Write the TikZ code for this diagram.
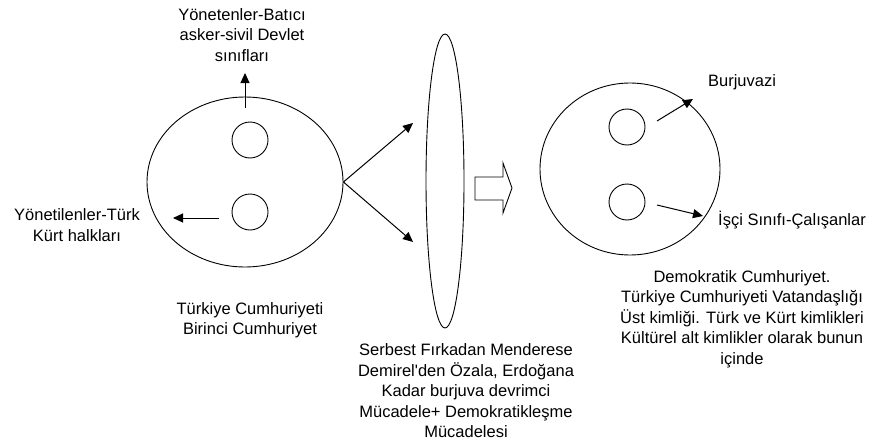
\documentclass[tikz,border=0pt]{standalone}
\usepackage{fontspec}
\setmainfont{Liberation Sans}
\usepackage{tikz}
\usetikzlibrary{shapes.geometric}
\usetikzlibrary{arrows.meta}

\begin{document}
\begin{tikzpicture}[x=1pt,y=-1pt,
        oval/.style={ellipse,draw,line width=0.9pt,inner sep=0pt},
        dot/.style={circle,draw,line width=0.9pt,inner sep=0pt,minimum size=36pt},
        lbl/.style={align=center,inner sep=0pt,font=\fontsize{16.5}{20.5}\selectfont},
        arr/.style={line width=1pt,-{Triangle[length=10pt,width=9pt]}}]
    \useasboundingbox (0,0) rectangle (874,444);

    % birinci cumhuriyet
    \node[oval,minimum width=196pt,minimum height=170pt] (rep1) at (245,182) {};
    \node[dot] (rulers) at (250,140) {};
    \node[dot] (ruled) at (250,212) {};
    \node[lbl] (rulersLbl) at (242,35) {Yönetenler-Batıcı\\asker-sivil Devlet\\sınıfları};
    \node[lbl] (ruledLbl) at (77,225) {Yönetilenler-Türk\\Kürt halkları};
    \node[lbl] (rep1Lbl) at (250,320) {Türkiye Cumhuriyeti\\Birinci Cumhuriyet};
    \coordinate (upFrom) at (245,108);
    \coordinate (upTo) at (245,73);
    \coordinate (leftFrom) at (219,218);
    \coordinate (leftTo) at (173,218);
    \draw[arr] (upFrom) -- (upTo);
    \draw[arr] (leftFrom) -- (leftTo);

    % mucadele
    \node[oval,minimum width=38pt,minimum height=294pt] (lens) at (445,181) {};
    \node[lbl] (lensLbl) at (466,391) {Serbest Fırkadan Menderese\\Demirel\textquotesingle den Özala, Erdoğana\\Kadar burjuva devrimci\\Mücadele+ Demokratikleşme\\Mücadelesi};
    \coordinate (splitUp) at (413,123);
    \coordinate (splitDown) at (413,242);
    \draw[arr] (rep1.east) -- (splitUp);
    \draw[arr] (rep1.east) -- (splitDown);

    % block arrow
    \draw[line width=0.9pt] (475,177) -- (503,177) -- (503,163) -- (512,188)
        -- (503,213) -- (503,200) -- (475,200) -- cycle;

    % demokratik cumhuriyet
    \node[oval,minimum width=180pt,minimum height=172pt] (rep2) at (630,169) {};
    \node[dot] (bourg) at (627,127) {};
    \node[dot] (workers) at (627,202) {};
    \node[lbl] (bourgLbl) at (742,82) {Burjuvazi};
    \node[lbl,anchor=west] (workersLbl) at (718,220) {İşçi Sınıfı-Çalışanlar};
    \node[lbl] (rep2Lbl) at (742,319) {Demokratik Cumhuriyet.\\Türkiye Cumhuriyeti Vatandaşlığı\\Üst kimliği. Türk ve Kürt kimlikleri\\Kültürel alt kimlikler olarak bunun\\içinde};
    \coordinate (bourgFrom) at (657,121);
    \coordinate (bourgTo) at (693,99);
    \coordinate (workersFrom) at (657,205);
    \coordinate (workersTo) at (703,216);
    \draw[arr] (bourgFrom) -- (bourgTo);
    \draw[arr] (workersFrom) -- (workersTo);
\end{tikzpicture}
\end{document}
